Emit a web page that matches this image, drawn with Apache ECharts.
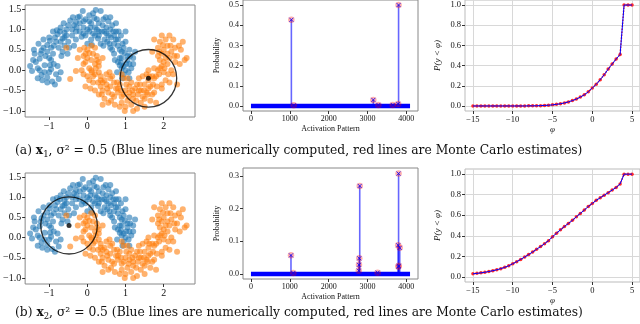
<!DOCTYPE html>
<html>
<head>
<meta charset="utf-8">
<script src="https://cdn.jsdelivr.net/npm/echarts@6/dist/echarts.min.js"></script>
<style>
html,body{margin:0;padding:0;background:#fff;}
#main{width:640px;height:324px;}
</style>
</head>
<body>
<div id="main"></div>
<script>
// two moons (same data in both rows)
var blueMoon=[
 [-1.45,-0.02],[-1.3,0.05],[-1.2,-0.12],[-1.05,-0.18],[-0.92,-0.28],[-1.12,0.12],[-0.95,0.02],[-0.82,-0.1],[-1.25,0.28],[-1.38,0.4],[-0.75,-0.22],[-1.0,-0.05],[-0.88,0.15],[-1.18,-0.25],
 [-1.4,0.5],[-1.2,0.48],[-1.05,0.62],[-0.9,0.4],[-0.75,0.55],[-1.0,0.8],[-1.15,0.75],[-0.82,0.7],[-0.68,0.35],[-1.28,0.65],[-0.95,0.25],[-0.6,0.6],[-1.1,0.35],[-0.78,0.88],
 [-0.55,1.0],[-0.4,0.85],[-0.65,0.78],[-0.35,1.1],[-0.2,0.95],[-0.5,0.7],[-0.7,1.05],[-0.45,1.22],[-0.3,0.75],[-0.6,0.92],[-0.25,1.3],[-0.15,0.82],[-0.8,0.98],
 [0.0,1.0],[0.1,1.15],[-0.1,1.2],[0.15,0.9],[0.05,1.35],[0.2,1.05],[-0.05,0.85],[0.25,1.25],[0.1,0.75],[-0.1,1.05],[0.3,0.95],[0.15,1.4],[0.0,0.65],
 [0.4,1.1],[0.5,0.9],[0.6,1.0],[0.45,0.75],[0.35,1.45],[0.55,1.2],[0.7,0.85],[0.42,0.6],[0.65,1.1],[0.58,0.65],[0.3,0.85],[0.75,0.95],
 [0.8,0.6],[0.9,0.45],[1.0,0.7],[0.85,0.3],[0.95,0.55],[0.75,0.75],[1.1,0.5],[0.7,0.4],[0.88,0.85],[1.05,0.35],[0.8,0.2],[0.95,0.1],
 [1.0,0.0],[0.9,0.05],[1.1,0.15],[0.95,-0.1],[0.85,0.12],[1.15,0.05],[0.78,-0.05],[1.05,0.25],[1.2,0.3],[0.92,-0.2],
 [-1.35,0.2],[-1.05,0.45],[-0.7,0.7],[-0.5,1.1],[-0.2,1.15],[0.05,0.95],[0.3,1.15],[0.5,1.05],[0.7,0.65],[0.9,0.3],
 [-0.95,0.55],[-0.6,0.8],[-0.3,0.95],[0.2,0.85],[0.45,0.95],[0.62,0.8],[0.85,0.5],[1.02,0.15],[-1.0,0.3],[-0.85,0.8],
 [-0.4,1.0],[-0.1,0.9],[0.25,1.0],[0.55,0.85],[0.8,0.75],[1.2,0.15],[-1.25,0.0],[-0.65,0.45],[-0.35,0.6],[0.35,0.65],
 [0.65,0.5],[-0.12,1.45],[0.22,1.48],[-0.2,1.32],[0.6,1.3],[0.75,1.15],[1.0,0.95],[-1.05,-0.3],[-0.85,-0.35],[1.1,-0.2],
 [-1.5,0.1],[-1.42,0.25],[-1.3,-0.2],[-1.15,0.55],[-0.98,0.72],[-0.88,0.6],[-0.72,0.95],[-0.55,0.85],[-0.48,0.55],[-0.38,1.3],
 [-0.28,1.05],[-0.05,1.25],[0.08,1.05],[0.18,1.28],[0.28,0.78],[0.38,0.95],[0.48,1.3],[0.52,0.7],[0.68,0.95],[0.82,0.95],
 [0.92,0.65],[1.12,0.35],[1.25,0.45],[0.98,0.42],[0.72,0.25],[1.08,-0.05],[-0.78,0.1],[-0.7,-0.05],[-1.12,-0.05],[-0.98,0.12],
 [-1.22,0.4],[-0.52,0.4],[0.12,0.62],[0.6,0.55],[0.88,0.18],[-0.3,1.18],[0.42,1.25],[0.05,1.2],[-0.62,1.15],[-0.9,0.95]
];
var orangeMoon=[
 [0.0,0.5],[-0.1,0.35],[0.1,0.6],[-0.05,0.2],[0.15,0.4],[-0.2,0.5],[0.05,0.05],[0.2,0.55],[-0.3,-0.02],[-0.45,-0.22],[-0.55,0.55],[0.1,0.25],[-0.15,0.0],
 [0.1,0.0],[0.2,-0.1],[0.0,-0.15],[0.3,0.1],[0.15,-0.3],[0.25,0.25],[-0.05,-0.4],[0.35,-0.15],[0.05,-0.25],[0.4,0.3],[0.2,0.15],[-0.1,-0.1],
 [0.5,-0.35],[0.4,-0.5],[0.6,-0.2],[0.45,-0.25],[0.55,-0.55],[0.35,-0.4],[0.7,-0.3],[0.3,-0.6],[0.65,-0.6],[0.5,-0.1],[0.45,-0.7],[0.75,-0.45],
 [1.0,-0.5],[0.9,-0.65],[1.1,-0.4],[0.85,-0.35],[1.05,-0.75],[0.95,-0.2],[1.2,-0.6],[0.8,-0.55],[1.15,-0.3],[1.0,-0.9],[0.9,-0.8],[1.25,-0.45],
 [1.5,-0.35],[1.4,-0.5],[1.6,-0.25],[1.45,-0.65],[1.35,-0.2],[1.55,-0.55],[1.65,-0.4],[1.3,-0.35],[1.7,-0.15],[1.4,-0.8],[1.55,-0.1],[1.75,-0.55],[1.2,-1.0],[1.3,-0.95],
 [1.85,0.0],[1.95,0.1],[1.8,-0.15],[2.0,-0.05],[1.9,0.25],[2.1,0.15],[1.75,0.05],[2.05,-0.25],[1.85,0.35],[2.2,0.0],[1.95,-0.35],[2.15,0.3],
 [2.0,0.5],[2.1,0.6],[1.95,0.4],[2.2,0.45],[1.85,0.55],[2.05,0.75],[2.3,0.55],[1.9,0.7],[2.15,0.85],[2.4,0.6],[2.55,0.25],[1.7,0.45],[2.05,0.3],[2.35,0.35],[1.75,0.75],
 [0.25,0.35],[0.0,0.3],[0.3,-0.05],[0.6,-0.4],[0.8,-0.45],[1.1,-0.55],[1.35,-0.5],[1.6,-0.45],[1.75,-0.2],[1.9,0.05],
 [2.0,0.2],[2.1,0.4],[0.15,-0.15],[0.4,-0.3],[0.7,-0.65],[0.95,-0.6],[1.2,-0.7],[1.5,-0.7],[1.7,-0.6],[1.95,-0.45],
 [2.25,-0.1],[2.3,0.2],[0.55,-0.8],[0.85,-0.9],[1.15,-0.85],[0.2,-0.5],[-0.1,0.15],[0.3,0.2],[2.45,0.5],[2.6,0.3],
 [2.25,0.75],[1.95,0.85],[1.6,0.0],[1.45,-0.15],[0.65,-0.15],[0.9,-0.1],[1.05,-0.2],[2.35,-0.35],[1.8,-0.8],[0.4,-0.85],
 [-0.25,0.3],[-0.08,0.55],[0.05,0.42],[0.22,0.05],[0.12,-0.05],[0.28,-0.3],[0.38,-0.6],[0.52,-0.45],[0.62,-0.75],[0.78,-0.3],
 [0.88,-0.5],[1.02,-0.35],[1.08,-0.65],[1.18,-0.5],[1.28,-0.75],[1.38,-0.35],[1.48,-0.5],[1.58,-0.6],[1.62,-0.15],[1.72,-0.35],
 [1.82,-0.4],[1.88,-0.1],[2.02,0.05],[2.12,-0.1],[2.18,0.6],[2.28,0.35],[1.98,0.62],[1.88,0.45],[2.42,0.15],[2.5,0.7],
 [0.72,-0.85],[0.98,-1.0],[1.32,-0.6],[0.35,-0.25],[0.08,-0.45],[-0.05,0.4],[1.5,-0.9],[1.65,-0.75],[2.15,-0.3],[0.58,-0.05]
];
var x1=[1.6,-0.2], x2=[-0.48,0.3];
var radius=0.707;

// activation pattern probabilities (stems)
var stemA=[[1040,0.427],[1100,0.003],[3150,0.03],[3280,0.005],[3650,0.005],[3790,0.01],[3800,0.5]];
var stemB=[[1030,0.057],[1090,0.003],[2775,0.01],[2780,0.028],[2788,0.048],[2800,0.27],[3260,0.004],[3790,0.088],[3795,0.022],[3805,0.025],[3800,0.308],[3830,0.08]];
var patternRange=[0,4095];

// CDF P(y < phi)
var phi=[-15,-14.5,-14,-13.5,-13,-12.5,-12,-11.5,-11,-10.5,-10,-9.5,-9,-8.5,-8,-7.5,-7,-6.5,-6,-5.5,-5,-4.5,-4,-3.5,-3,-2.5,-2,-1.5,-1,-0.5,0,0.5,1,1.5,2,2.5,3,3.5,4,4.5,5];
var cdfA=[0,0,0,0,0,0,0,0,0,0,0,0,0,0,0.001,0.001,0.002,0.003,0.005,0.007,0.011,0.016,0.022,0.03,0.04,0.053,0.068,0.088,0.11,0.14,0.178,0.215,0.26,0.31,0.365,0.415,0.465,0.51,1,1,1];
var cdfB=[0.03,0.034,0.039,0.045,0.052,0.06,0.069,0.08,0.093,0.108,0.128,0.148,0.17,0.193,0.217,0.242,0.268,0.295,0.323,0.352,0.39,0.425,0.458,0.49,0.52,0.55,0.585,0.618,0.65,0.685,0.715,0.745,0.77,0.795,0.82,0.845,0.87,0.905,1,1,1];

var serif='"DejaVu Serif","Liberation Serif",serif';
var tickFont='"Liberation Serif","DejaVu Serif",serif';
var scatX=[-1.63,2.82], scatY=[-1.15,1.6];

var grids=[
  {left:17,top:5,width:178,height:112,frame:'#888'},
  {left:243,top:0,width:175,height:111,frame:'#888'},
  {left:465,top:0,width:175,height:111,frame:'#bbb'},
  {left:17,top:173,width:178,height:111,frame:'#888'},
  {left:243,top:168,width:175,height:111,frame:'#888'},
  {left:465,top:169,width:175,height:113,frame:'#bbb'}
];

function minus(v,d){
  var s=d==null?String(v):v.toFixed(d);
  return s.replace('-','\u2212');
}

function axis(i,min,max,ticks,fs,dec,opt){
  var o={gridIndex:i,type:'value',min:min,max:max,
    axisLine:{show:false,onZero:false},
    axisTick:{show:true,length:3,customValues:ticks,lineStyle:{color:'#333'}},
    axisLabel:{customValues:ticks,fontFamily:tickFont,fontSize:fs,color:'#111',margin:4,
      formatter:function(v){return minus(v,dec);}},
    splitLine:{show:false}};
  return Object.assign(o,opt||{});
}

var xAxes=[], yAxes=[];
[0,3].forEach(function(i){
  xAxes.push(axis(i,scatX[0],scatX[1],[-1,0,1,2],10,0));
  yAxes.push(axis(i,scatY[0],scatY[1],[-1,-0.5,0,0.5,1,1.5],10,1));
});
[[1,0.525,[0,0.1,0.2,0.3,0.4,0.5]],[4,0.325,[0,0.1,0.2,0.3]]].forEach(function(c){
  xAxes.push(axis(c[0],-205,4300,[0,1000,2000,3000,4000],8,0,
    {name:'Activation Pattern',nameLocation:'middle',nameGap:14,
     nameTextStyle:{fontFamily:tickFont,fontSize:8,color:'#111'}}));
  yAxes.push(axis(c[0],c[0]==1?-0.025:-0.0155,c[1],c[2],8,1,
    {name:'Probability',nameLocation:'middle',nameGap:22,
     nameTextStyle:{fontFamily:tickFont,fontSize:8,color:'#111'}}));
});
[2,5].forEach(function(i){
  var gl={show:true,lineStyle:{color:'#d8d8d8',width:1}};
  xAxes.push(axis(i,-16,6,[-15,-10,-5,0,5],8.5,0,
    {name:'\u03c6',nameLocation:'middle',nameGap:12,splitLine:gl,
     nameTextStyle:{fontFamily:tickFont,fontSize:9,fontStyle:'italic',color:'#111'}}));
  yAxes.push(axis(i,-0.05,1.05,[0,0.2,0.4,0.6,0.8,1.0],8.5,1,
    {name:'P(y < \u03c6)',nameLocation:'middle',nameGap:23,splitLine:gl,
     nameTextStyle:{fontFamily:tickFont,fontSize:9,fontStyle:'italic',color:'#111'}}));
});
// axis index map: grid -> axis index
var ax={0:0,3:1,1:2,4:3,2:4,5:5};

var series=[];
function moonSeries(g,center){
  var gr=grids[g];
  var pxX=gr.width/(scatX[1]-scatX[0]), pxY=gr.height/(scatY[1]-scatY[0]);
  series.push({type:'scatter',xAxisIndex:ax[g],yAxisIndex:ax[g],data:blueMoon,symbolSize:6,
    itemStyle:{color:'#1f77b4',opacity:0.6},silent:true});
  series.push({type:'scatter',xAxisIndex:ax[g],yAxisIndex:ax[g],data:orangeMoon,symbolSize:6,
    itemStyle:{color:'#ff7f0e',opacity:0.6},silent:true});
  series.push({type:'scatter',xAxisIndex:ax[g],yAxisIndex:ax[g],data:[center],
    symbolSize:[2*radius*pxX,2*radius*pxY],
    itemStyle:{color:'rgba(0,0,0,0)',borderColor:'#000',borderWidth:1.3},silent:true});
  series.push({type:'scatter',xAxisIndex:ax[g],yAxisIndex:ax[g],data:[center],symbolSize:5,
    itemStyle:{color:'#000'},silent:true});
}
moonSeries(0,x1);
moonSeries(3,x2);

function stemSeries(g,stems){
  var a=ax[g];
  series.push({type:'line',xAxisIndex:a,yAxisIndex:a,data:patternRange.map(function(p){return [p,0];}),
    symbol:'none',lineStyle:{color:'#0000ff',width:4.5},silent:true,z:3});
  series.push({type:'bar',xAxisIndex:a,yAxisIndex:a,data:stems,barWidth:1.6,
    itemStyle:{color:'rgba(0,0,255,0.6)'},silent:true,z:2});
  series.push({type:'scatter',xAxisIndex:a,yAxisIndex:a,data:stems,symbol:'circle',symbolSize:6.5,
    itemStyle:{color:'rgba(255,0,0,0.4)'},silent:true,z:4});
  series.push({type:'scatter',xAxisIndex:a,yAxisIndex:a,data:stems,symbol:'path://M0,0L10,10M10,0L0,10',symbolSize:4,
    itemStyle:{color:'rgba(0,0,0,0)',borderColor:'#0000ff',borderWidth:1},silent:true,z:5});
}
stemSeries(1,stemA);
stemSeries(4,stemB);

function cdfSeries(g,vals){
  var a=ax[g];
  var d=phi.map(function(p,k){return [p,vals[k]];});
  series.push({type:'line',xAxisIndex:a,yAxisIndex:a,data:d,symbol:'circle',symbolSize:3.5,
    itemStyle:{color:'#ff2a2a'},lineStyle:{color:'#ff2a2a',width:1.5,type:'dotted'},silent:true,z:2});
  series.push({type:'line',xAxisIndex:a,yAxisIndex:a,data:d,symbol:'none',
    lineStyle:{color:'#0000ff',width:1},silent:true,z:3});
}
cdfSeries(2,cdfA);
cdfSeries(5,cdfB);

var capRich={
  b:{fontFamily:serif,fontSize:12.3,fontWeight:'bold',color:'#111'},
  s:{fontFamily:serif,fontSize:8.5,color:'#111',padding:[7,0,0,0]},
  n:{fontFamily:serif,fontSize:12.3,color:'#111'}
};
function caption(tag,top){
  return {type:'text',left:15,top:top,silent:true,
    style:{text:'{n|('+tag+') }{b|x}{s|'+(tag=='a'?'1':'2')+'}{n|, \u03c3\u00b2 = 0.5 (Blue lines are numerically computed, red lines are Monte Carlo estimates)}',
      rich:capRich,fill:'#111'}};
}

var chart=echarts.init(document.getElementById('main'),null,{renderer:'canvas'});
chart.setOption({
  animation:false,
  grid:grids.map(function(g){return {left:g.left,top:g.top,width:g.width,height:g.height,
    show:true,borderColor:g.frame,borderWidth:1,backgroundColor:'transparent',containLabel:false};}),
  xAxis:xAxes,
  yAxis:yAxes,
  series:series,
  graphic:[caption('a',145),caption('b',307)]
});
</script>
</body>
</html>
